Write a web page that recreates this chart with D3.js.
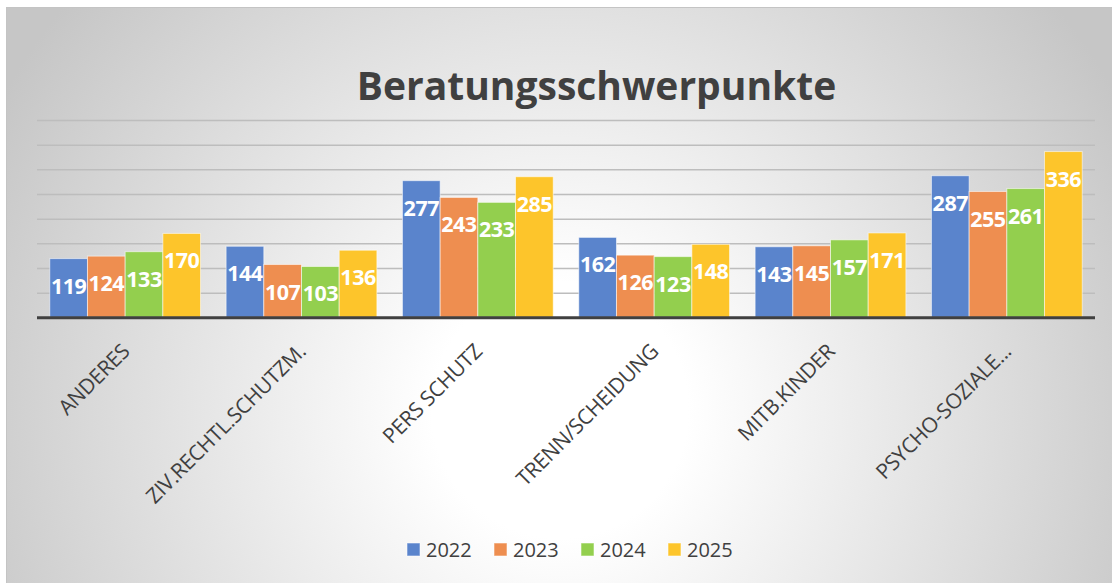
<!DOCTYPE html>
<html>
<head>
<meta charset="utf-8">
<script src="https://cdn.jsdelivr.net/npm/d3@7"></script>
<style>
  body { margin: 0; background: #fff; }
  svg { display: block; font-family: 'Open Sans', sans-serif; }
</style>
</head>
<body>
<div id="chart"></div>
<script>
// chart data
const categories = ['ANDERES', 'ZIV.RECHTL.SCHUTZM.', 'PERS SCHUTZ', 'TRENN/SCHEIDUNG', 'MITB.KINDER', 'PSYCHO-SOZIALE...'];
const years = ['2022', '2023', '2024', '2025'];
const values2022 = [119, 144, 277, 162, 143, 287];
const values2023 = [124, 107, 243, 126, 145, 255];
const values2024 = [133, 103, 233, 123, 157, 261];
const values2025 = [170, 136, 285, 148, 171, 336];
const yMax = 400;
const yStep = 50;

const seriesValues = [values2022, values2023, values2024, values2025];
const colors = ['#5a84cc', '#ee8e50', '#93cf4e', '#fdc52b'];

const W = 1112, H = 583;
const plot = { left: 37, right: 1095, top: 120, bottom: 317.3 };

const svg = d3.select('#chart').append('svg')
    .attr('width', W)
    .attr('height', H);

// background gradient
const defs = svg.append('defs');
const grad = defs.append('radialGradient')
    .attr('id', 'bg')
    .attr('gradientUnits', 'userSpaceOnUse')
    .attr('cx', 560).attr('cy', 410).attr('r', 640);
grad.append('stop').attr('offset', '0').attr('stop-color', '#ffffff');
grad.append('stop').attr('offset', '0.2').attr('stop-color', '#ffffff');
grad.append('stop').attr('offset', '1').attr('stop-color', '#c6c6c6');

svg.append('rect')
    .attr('x', 6.5).attr('y', 7.5)
    .attr('width', W).attr('height', H)
    .attr('fill', 'url(#bg)')
    .attr('stroke', '#c4c4c4')
    .attr('stroke-width', 1);

// scales
const x0 = d3.scaleBand()
    .domain(categories)
    .range([plot.left, plot.right])
    .paddingInner(0.145)
    .paddingOuter(0.0725);

const x1 = d3.scaleBand()
    .domain(years)
    .range([0, x0.bandwidth()]);

const y = d3.scaleLinear()
    .domain([0, yMax])
    .range([plot.bottom, plot.top]);

// gridlines
const grid = svg.append('g')
    .attr('transform', `translate(${plot.left},0)`)
    .call(d3.axisLeft(y)
        .tickValues(d3.range(yStep, yMax + 1, yStep))
        .tickSize(-(plot.right - plot.left))
        .tickFormat(''));
grid.select('.domain').remove();
grid.selectAll('line')
    .attr('stroke', '#bdbdbd')
    .attr('stroke-width', 1.5);

// bars
const tableData = categories.map((c, i) => ({
    category: c,
    values: years.map((yr, j) => ({ year: yr, value: seriesValues[j][i], color: colors[j] }))
}));

const groups = svg.append('g')
    .selectAll('g')
    .data(tableData)
    .enter().append('g')
    .attr('transform', d => `translate(${x0(d.category)},0)`);

groups.selectAll('rect')
    .data(d => d.values)
    .enter().append('rect')
    .attr('x', d => x1(d.year))
    .attr('y', d => y(d.value))
    .attr('width', x1.bandwidth())
    .attr('height', d => y(0) - y(d.value))
    .attr('fill', d => d.color)
    .attr('stroke', 'rgba(255,255,255,0.55)')
    .attr('stroke-width', 1);

groups.selectAll('text')
    .data(d => d.values)
    .enter().append('text')
    .attr('x', d => x1(d.year) + x1.bandwidth() / 2)
    .attr('y', d => y(d.value) + 35)
    .attr('text-anchor', 'middle')
    .attr('fill', '#ffffff')
    .style('font-size', '21.5px')
    .style('font-weight', 'bold')
    .style('letter-spacing', '-0.5px')
    .text(d => d.value);

// baseline
svg.append('line')
    .attr('x1', plot.left).attr('x2', plot.right)
    .attr('y1', y(0) + 0.5).attr('y2', y(0) + 0.5)
    .attr('stroke', '#404040')
    .attr('stroke-width', 3);

// category labels
svg.append('g')
    .selectAll('text')
    .data(categories)
    .enter().append('text')
    .attr('transform', d => `translate(${x0(d) + x0.bandwidth() / 2 - 5},342) rotate(-45)`)
    .attr('text-anchor', 'end')
    .attr('dy', '0.72em')
    .attr('fill', '#404040')
    .style('font-size', '21px')
    .style('letter-spacing', '-0.3px')
    .text(d => d);

// title
svg.append('text')
    .attr('x', 596.5)
    .attr('y', 100)
    .attr('text-anchor', 'middle')
    .attr('fill', '#404040')
    .style('font-size', '39px')
    .style('font-weight', 'bold')
    .text('Beratungsschwerpunkte');

// legend
const legend = svg.append('g')
    .selectAll('g')
    .data(years)
    .enter().append('g')
    .attr('transform', (d, i) => `translate(${407 + i * 87},543)`);

legend.append('rect')
    .attr('width', 13)
    .attr('height', 13)
    .attr('fill', (d, i) => colors[i])
    .attr('stroke', 'rgba(255,255,255,0.55)');

legend.append('text')
    .attr('x', 19)
    .attr('y', 14)
    .attr('fill', '#404040')
    .style('font-size', '20px')
    .text(d => d);
</script>
</body>
</html>
